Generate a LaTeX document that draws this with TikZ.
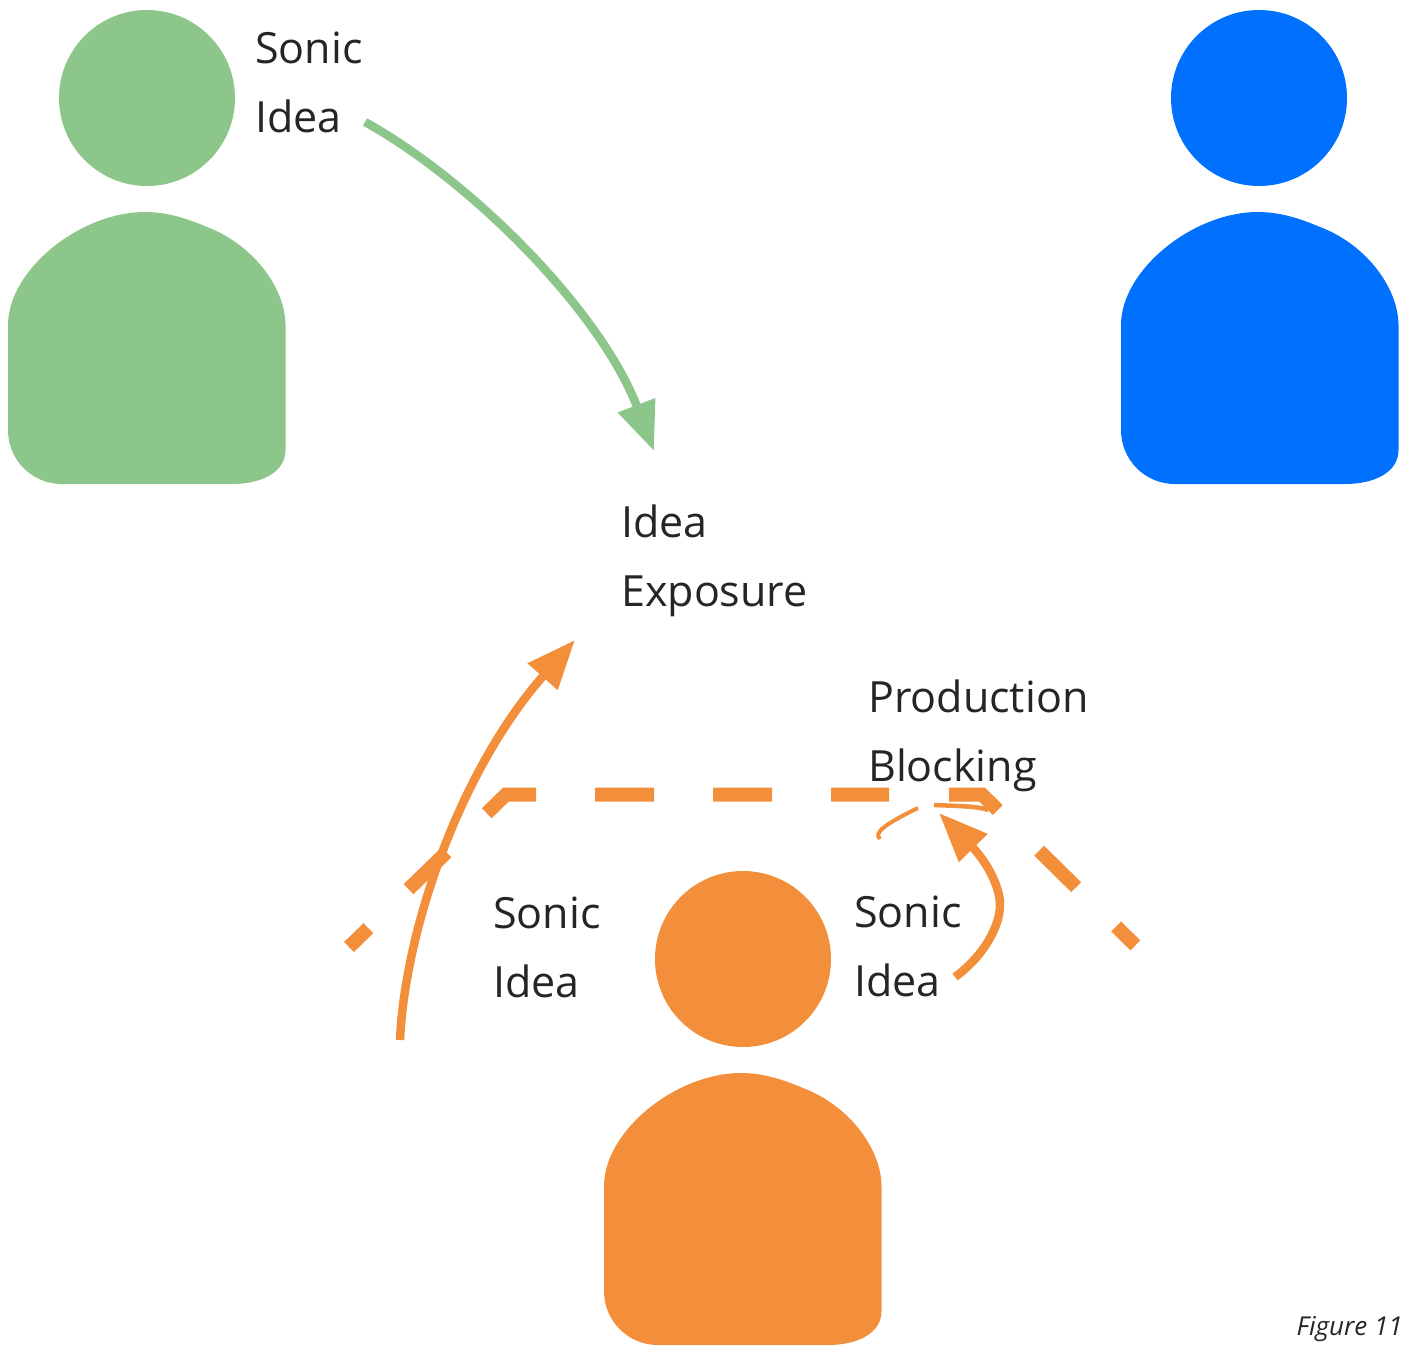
\documentclass[tikz,border=0pt]{standalone}
\usepackage{fontspec}
\setmainfont{Open Sans}
\usetikzlibrary{arrows.meta}
\definecolor{cgreen}{HTML}{8DC68A}
\definecolor{cblue}{HTML}{0070FF}
\definecolor{corange}{HTML}{F38E3A}
\definecolor{ctext}{HTML}{252525}
\tikzset{
  x=1pt,y=-1pt,
  headdot/.style={circle,fill=#1,draw=none,inner sep=0,minimum size=176pt},
  label/.style={anchor=base west,inner sep=0,align=left,text=ctext,font=\fontsize{43}{69}\selectfont},
  bodyshape/.pic={
    \fill[pic actions] (145,212) .. controls (168,212) and (188,219) .. (207,227)
      .. controls (250,243) and (285,285) .. (285.5,325) -- (285.5,450)
      .. controls (285.5,472) and (262,484) .. (232,484) -- (62,484)
      .. controls (32,484) and (8,460) .. (8,430) -- (8,325)
      .. controls (8,270) and (80,212) .. (145,212) -- cycle;
  },
  flow/.style={draw=#1,line width=8.5pt,-{Triangle[length=49pt,width=38pt,fill=#1]}},
}
\begin{document}
\begin{tikzpicture}
\useasboundingbox (0,0) rectangle (1410,1347);
% people
\node[headdot=cgreen] (headA) at (147,98) {};
\pic[fill=cgreen] (bodyA) at (0,0) {bodyshape};
\node[headdot=cblue] (headB) at (1259,98) {};
\pic[fill=cblue] (bodyB) at (1113,0) {bodyshape};
\node[headdot=corange] (headC) at (743,959) {};
\pic[fill=corange] (bodyC) at (596,861) {bodyshape};
% labels
\node[label] (sonicA) at (255,132) {Sonic\\Idea};
\node[label] (exposure) at (621,606) {Idea\\Exposure};
\node[label] (blocking) at (868,781) {Production\\Blocking};
\node[label] (sonicL) at (493,997) {Sonic\\Idea};
\node[label] (sonicR) at (854,996) {Sonic\\Idea};
\node[anchor=base east,inner sep=0,text=ctext,font=\fontsize{26}{30}\selectfont\itshape] (figure) at (1403,1335) {Figure 11};
% dashed boundary
\coordinate (dashStart) at (349,947);
\coordinate (dashCornerL) at (506,794.5);
\coordinate (dashCornerR) at (982,794.5);
\coordinate (dashEnd) at (1137,947);
\draw[corange,line width=14pt,dash pattern=on 27pt off 56pt on 53pt off 56pt on 57pt off 59pt on 59pt off 59pt on 59pt off 59pt on 58pt off 60pt on 55pt off 58pt on 52pt off 56pt on 27pt off 60pt]
  (dashStart) -- (dashCornerL) -- (dashCornerR) -- (dashEnd);
% thin connector
\coordinate (thinA) at (880,839);
\coordinate (thinB) at (918,808);
\coordinate (thinC) at (934,805);
\coordinate (thinD) at (988,810);
\draw[corange,line width=4pt] (thinA) .. controls (873,833) and (885,824) .. (thinB);
\draw[corange,line width=4.5pt] (thinC) .. controls (955,806) and (978,806) .. (thinD);
% arrows
\coordinate (greenStart) at (365,122);
\coordinate (greenEnd) at (654,451);
\draw[flow=cgreen] (greenStart) .. controls (470,180) and (600,310) .. (greenEnd);
\coordinate (orangeStart) at (400,1040);
\coordinate (orangeEnd) at (575,640);
\draw[flow=corange] (orangeStart) .. controls (405,930) and (460,770) .. (orangeEnd);
\coordinate (loopStart) at (955,977);
\coordinate (loopMid) at (1000,905);
\coordinate (loopEnd) at (939,813);
\draw[flow=corange] (loopStart) .. controls (985,955) and (1000,925) .. (loopMid) .. controls (1000,885) and (985,860) .. (loopEnd);
\end{tikzpicture}
\end{document}
